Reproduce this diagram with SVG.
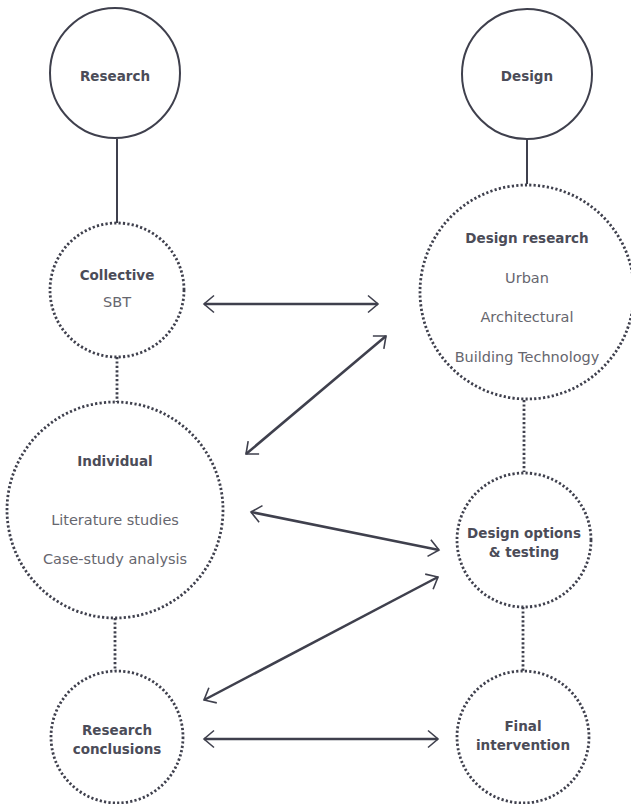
<svg xmlns="http://www.w3.org/2000/svg" width="631" height="804" viewBox="0 0 631 804">
<style>
.solid{fill:none;stroke:#3f404d;stroke-width:2}
.dot{fill:none;stroke:#3f404d;stroke-width:2.8;stroke-dasharray:2.2 2.2}
.b{font-family:"DejaVu Sans",sans-serif;font-weight:bold;font-size:13.5px;fill:#4b4c58;text-anchor:middle}
.r{font-family:"DejaVu Sans",sans-serif;font-size:14.5px;fill:#66666e;text-anchor:middle}
.arr{stroke:#3f404d;stroke-width:2.5;fill:none;marker-start:url(#h);marker-end:url(#h)}
</style>
<defs>
<marker id="h" markerUnits="userSpaceOnUse" markerWidth="24" markerHeight="24" viewBox="0 0 24 24" refX="13" refY="12" orient="auto-start-reverse">
<path d="M3,3.5 L13,12 L3,20.5" fill="none" stroke="#3f404d" stroke-width="1.6"/>
</marker>
</defs>
<g id="connectors">
<line class="solid" x1="117" y1="139" x2="117" y2="223"/>
<line class="solid" x1="527" y1="139" x2="527" y2="184"/>
<line class="dot" x1="117" y1="357" x2="117" y2="402"/>
<line class="dot" x1="115" y1="618" x2="115" y2="671"/>
<line class="dot" x1="524" y1="400" x2="524" y2="472"/>
<line class="dot" x1="523" y1="607" x2="523" y2="671"/>
<line class="arr" x1="204" y1="304" x2="378" y2="304"/>
<line class="arr" x1="386" y1="336" x2="246" y2="454"/>
<line class="arr" x1="251" y1="512" x2="439" y2="550"/>
<line class="arr" x1="438" y1="577" x2="204" y2="700"/>
<line class="arr" x1="204" y1="739" x2="438" y2="739"/>
</g>
<g id="research">
<circle class="solid" cx="115" cy="73" r="65"/>
<text class="b" x="115" y="81">Research</text>
</g>
<g id="design">
<circle class="solid" cx="527" cy="74" r="65"/>
<text class="b" x="527" y="81">Design</text>
</g>
<g id="collective">
<circle class="dot" cx="117" cy="290" r="67"/>
<text class="b" x="117" y="280">Collective</text>
<text class="r" x="117" y="307">SBT</text>
</g>
<g id="design-research">
<circle class="dot" cx="527" cy="292" r="107"/>
<text class="b" x="527" y="243">Design research</text>
<text class="r" x="527" y="283">Urban</text>
<text class="r" x="527" y="322">Architectural</text>
<text class="r" x="527" y="362">Building Technology</text>
</g>
<g id="individual">
<circle class="dot" cx="115" cy="510" r="108"/>
<text class="b" x="115" y="466">Individual</text>
<text class="r" x="115" y="525">Literature studies</text>
<text class="r" x="115" y="564">Case-study analysis</text>
</g>
<g id="design-options">
<circle class="dot" cx="524" cy="540" r="67"/>
<text class="b" x="524" y="538">Design options</text>
<text class="b" x="524" y="557">&amp; testing</text>
</g>
<g id="research-conclusions">
<circle class="dot" cx="117" cy="737" r="66"/>
<text class="b" x="117" y="735">Research</text>
<text class="b" x="117" y="754">conclusions</text>
</g>
<g id="final-intervention">
<circle class="dot" cx="523" cy="737" r="66"/>
<text class="b" x="523" y="731">Final</text>
<text class="b" x="523" y="750">intervention</text>
</g>
</svg>
